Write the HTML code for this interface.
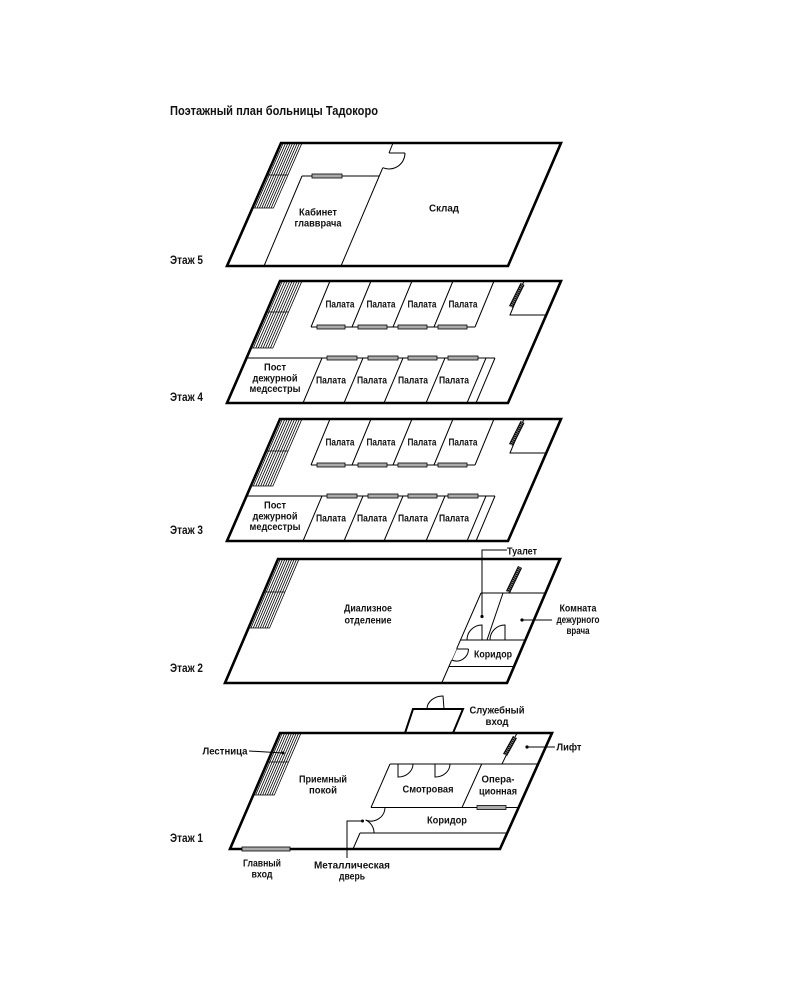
<!DOCTYPE html>
<html><head><meta charset="utf-8">
<style>
html,body{margin:0;padding:0;background:#fff;}
svg{display:block;}
text{font-family:"Liberation Sans Narrow","Liberation Sans","DejaVu Sans Condensed",sans-serif;font-weight:bold;font-size:10px;fill:#111;}
.c{text-anchor:middle;}
.o{fill:none;stroke:#000;stroke-width:2.6;stroke-linejoin:miter;}
.w{fill:none;stroke:#000;stroke-width:1;}
.h{fill:none;stroke:#000;stroke-width:0.85;}
.win{fill:#aaa;stroke:#000;stroke-width:0.8;}
.el1{stroke:#000;stroke-width:4.5;stroke-linecap:butt;}
.el2{stroke:#888;stroke-width:2.5;stroke-dasharray:1 1;}
</style></head>
<body>
<svg width="800" height="1000" viewBox="0 0 800 1000" xmlns="http://www.w3.org/2000/svg">
<rect width="800" height="1000" fill="#fff"/>

<text x="170" y="115" style="font-size:12.5px" textLength="208" lengthAdjust="spacingAndGlyphs">Поэтажный план больницы Тадокоро</text>

<!-- ===== FLOOR 5 ===== -->
<g transform="translate(281,143) skewX(-23.7)">
 <rect x="0" y="0" width="21" height="65" class="h"/>
 <path class="h" d="M2.33 0V65M4.67 0V65M7 0V65M9.33 0V65M11.67 0V65M14 0V65M16.33 0V65M18.67 0V65M0 32H21"/>
</g>
<polygon class="o" points="281,143 561,143 508,266 227,266"/>
<path class="w" d="M302,176 L264,266 M302,176 L379,176 M393,143 L389,153 M382.8,167.7 L341,266 M389,153 L405,153"/>
<path class="w" d="M405,153 A16,16 0 0,1 382.8,167.7"/>
<rect class="win" x="312" y="174" width="30" height="4"/>
<text class="c" x="318" y="215.5" textLength="38" lengthAdjust="spacingAndGlyphs">Кабинет</text>
<text class="c" x="318" y="226.5" textLength="47" lengthAdjust="spacingAndGlyphs">главврача</text>
<text class="c" x="444" y="211.5" textLength="30" lengthAdjust="spacingAndGlyphs">Склад</text>
<text x="170" y="264" style="font-size:11.5px" textLength="33" lengthAdjust="spacingAndGlyphs">Этаж 5</text>

<!-- ===== FLOOR 4 ===== -->
<g>
<g transform="translate(280,281) skewX(-23.5)">
 <rect x="0" y="0" width="22" height="67" class="h"/>
 <path class="h" d="M2.44 0V67M4.89 0V67M7.33 0V67M9.78 0V67M12.22 0V67M14.67 0V67M17.11 0V67M19.56 0V67M0 31H22"/>
</g>
<polygon class="o" points="280,281 561,281 508,403 227,403"/>
<path class="w" d="M330,281 L311,327 M371,281 L352,327 M412,281 L393,327 M453,281 L434,327 M494,281 L475,327 M311,327 L475,327"/>
<rect class="win" x="317" y="325" width="28" height="4"/>
<rect class="win" x="358" y="325" width="29" height="4"/>
<rect class="win" x="398" y="325" width="29" height="4"/>
<rect class="win" x="438" y="325" width="29" height="4"/>
<text class="c" x="340" y="307.5" textLength="29" lengthAdjust="spacingAndGlyphs">Палата</text>
<text class="c" x="381" y="307.5" textLength="29" lengthAdjust="spacingAndGlyphs">Палата</text>
<text class="c" x="422" y="307.5" textLength="29" lengthAdjust="spacingAndGlyphs">Палата</text>
<text class="c" x="463" y="307.5" textLength="29" lengthAdjust="spacingAndGlyphs">Палата</text>
<path class="w" d="M524,281 L510,315 L546,315"/>
<line class="el1" x1="511" y1="307" x2="522.5" y2="284"/>
<line class="el2" x1="511" y1="307" x2="522.5" y2="284"/>
<path class="w" d="M246.5,358 L495,358 M322,358 L303,403 M363,358 L344,403 M403,358 L384,403 M445,358 L426,403 M486,358 L467,403 M495,358 L476,403"/>
<rect class="win" x="327" y="356" width="30" height="4"/>
<rect class="win" x="368" y="356" width="30" height="4"/>
<rect class="win" x="408" y="356" width="29" height="4"/>
<rect class="win" x="448" y="356" width="30" height="4"/>
<text class="c" x="331" y="383.5" textLength="30" lengthAdjust="spacingAndGlyphs">Палата</text>
<text class="c" x="372" y="383.5" textLength="30" lengthAdjust="spacingAndGlyphs">Палата</text>
<text class="c" x="413" y="383.5" textLength="30" lengthAdjust="spacingAndGlyphs">Палата</text>
<text class="c" x="454" y="383.5" textLength="30" lengthAdjust="spacingAndGlyphs">Палата</text>
<text class="c" x="275" y="370.5" textLength="22" lengthAdjust="spacingAndGlyphs">Пост</text>
<text class="c" x="275" y="381.5" textLength="45" lengthAdjust="spacingAndGlyphs">дежурной</text>
<text class="c" x="275" y="392" textLength="51" lengthAdjust="spacingAndGlyphs">медсестры</text>
</g>
<text x="170" y="401" style="font-size:11.5px" textLength="33" lengthAdjust="spacingAndGlyphs">Этаж 4</text>

<!-- ===== FLOOR 3 ===== -->
<g transform="translate(0,138)">
<g transform="translate(280,281) skewX(-23.5)">
 <rect x="0" y="0" width="22" height="67" class="h"/>
 <path class="h" d="M2.44 0V67M4.89 0V67M7.33 0V67M9.78 0V67M12.22 0V67M14.67 0V67M17.11 0V67M19.56 0V67M0 32H22"/>
</g>
<polygon class="o" points="280,281 561,281 508,403 227,403"/>
<path class="w" d="M330,281 L311,327 M371,281 L352,327 M412,281 L393,327 M453,281 L434,327 M494,281 L475,327 M311,327 L475,327"/>
<rect class="win" x="317" y="325" width="28" height="4"/>
<rect class="win" x="358" y="325" width="29" height="4"/>
<rect class="win" x="398" y="325" width="29" height="4"/>
<rect class="win" x="438" y="325" width="29" height="4"/>
<text class="c" x="340" y="307.5" textLength="29" lengthAdjust="spacingAndGlyphs">Палата</text>
<text class="c" x="381" y="307.5" textLength="29" lengthAdjust="spacingAndGlyphs">Палата</text>
<text class="c" x="422" y="307.5" textLength="29" lengthAdjust="spacingAndGlyphs">Палата</text>
<text class="c" x="463" y="307.5" textLength="29" lengthAdjust="spacingAndGlyphs">Палата</text>
<path class="w" d="M524,281 L510,315 L546,315"/>
<line class="el1" x1="511" y1="307" x2="522.5" y2="284"/>
<line class="el2" x1="511" y1="307" x2="522.5" y2="284"/>
<path class="w" d="M246.5,358 L495,358 M322,358 L303,403 M363,358 L344,403 M403,358 L384,403 M445,358 L426,403 M486,358 L467,403 M495,358 L476,403"/>
<rect class="win" x="327" y="356" width="30" height="4"/>
<rect class="win" x="368" y="356" width="30" height="4"/>
<rect class="win" x="408" y="356" width="29" height="4"/>
<rect class="win" x="448" y="356" width="30" height="4"/>
<text class="c" x="331" y="383.5" textLength="30" lengthAdjust="spacingAndGlyphs">Палата</text>
<text class="c" x="372" y="383.5" textLength="30" lengthAdjust="spacingAndGlyphs">Палата</text>
<text class="c" x="413" y="383.5" textLength="30" lengthAdjust="spacingAndGlyphs">Палата</text>
<text class="c" x="454" y="383.5" textLength="30" lengthAdjust="spacingAndGlyphs">Палата</text>
<text class="c" x="275" y="370.5" textLength="22" lengthAdjust="spacingAndGlyphs">Пост</text>
<text class="c" x="275" y="381.5" textLength="45" lengthAdjust="spacingAndGlyphs">дежурной</text>
<text class="c" x="275" y="392" textLength="51" lengthAdjust="spacingAndGlyphs">медсестры</text>
</g>
<text x="170" y="534" style="font-size:11.5px" textLength="33" lengthAdjust="spacingAndGlyphs">Этаж 3</text>

<!-- ===== FLOOR 2 ===== -->
<g transform="translate(278,559) skewX(-23.1)">
 <rect x="0" y="0" width="21" height="69" class="h"/>
 <path class="h" d="M2.33 0V69M4.67 0V69M7 0V69M9.33 0V69M11.67 0V69M14 0V69M16.33 0V69M18.67 0V69M0 33H21"/>
</g>
<polygon class="o" points="278,559 560,559 507,683 225,683"/>
<path class="w" d="M481,593 L545.5,593 M481,593 L441.7,683 M503,593 L487,640 M460.5,640 L525.4,640 M448.9,666.5 L514,666.5"/>
<path fill="#fff" stroke="none" d="M456.8,648.5 L451.5,660.5 L449,660 L454.5,648 Z"/>
<path class="w" d="M456.5,649 L468.5,649 M468.5,649 A12,12 0 0,1 451.7,660"/>
<line class="el1" x1="508" y1="592" x2="520" y2="567"/>
<line class="el2" x1="508" y1="592" x2="520" y2="567"/>
<path class="w" d="M482,640 L482,625 A15,15 0 0,0 467,640"/>
<path class="w" d="M505,640 L505,625 A15,15 0 0,0 490,640"/>
<path class="w" d="M507,550 L482,550 L482,616.5"/>
<circle cx="482" cy="616.5" r="1.6" fill="#000"/>
<path class="w" d="M552,620 L522,620"/>
<circle cx="522" cy="620" r="1.6" fill="#000"/>
<text class="c" x="368" y="611.5" textLength="48" lengthAdjust="spacingAndGlyphs">Диализное</text>
<text class="c" x="368" y="623.5" textLength="47" lengthAdjust="spacingAndGlyphs">отделение</text>
<text class="c" x="493" y="657.5" textLength="38" lengthAdjust="spacingAndGlyphs">Коридор</text>
<text class="c" x="522" y="554.5" textLength="30" lengthAdjust="spacingAndGlyphs">Туалет</text>
<text class="c" x="578" y="611.5" textLength="37" lengthAdjust="spacingAndGlyphs">Комната</text>
<text class="c" x="578" y="623" textLength="43" lengthAdjust="spacingAndGlyphs">дежурного</text>
<text class="c" x="578" y="634" textLength="23" lengthAdjust="spacingAndGlyphs">врача</text>
<text x="170" y="672" style="font-size:11.5px" textLength="33" lengthAdjust="spacingAndGlyphs">Этаж 2</text>

<!-- ===== FLOOR 1 ===== -->
<g transform="translate(280,733) skewX(-23.3)">
 <rect x="0" y="0" width="21" height="62" class="h"/>
 <path class="h" d="M2.33 0V62M4.67 0V62M7 0V62M9.33 0V62M11.67 0V62M14 0V62M16.33 0V62M18.67 0V62M0 29H21"/>
</g>
<polygon fill="#fff" stroke="#000" stroke-width="2" points="405,733 413,709 463,709 453,733"/>
<path class="w" d="M427,709 A16,13 0 0,1 443,696 L444,709"/>
<polygon class="o" points="280,733 552,733 500,849 230,849"/>
<path class="w" d="M517,733 L502,764 M390,764 L538.3,764 M390,764 L371,807.5 M360,833 L353,849 M481.7,764 L462,807.5 M371,807.5 L518.6,807.5 M360,833 L507.2,833"/>
<line class="el1" x1="505" y1="755" x2="515" y2="737"/>
<line class="el2" x1="505" y1="755" x2="515" y2="737"/>
<rect class="win" x="477" y="805.5" width="29" height="4"/>
<rect class="win" x="242" y="847" width="48" height="4"/>
<path class="w" d="M398,764 L398,777 A15,13 0 0,0 413,764"/>
<path class="w" d="M435,764 L435,777 A15,13 0 0,0 450,764"/>
<path class="w" d="M385,807.5 A14,14 0 0,1 365.6,820 M374,833 A14,14 0 0,0 365.6,820"/>
<path class="w" d="M347,858 L347,821 L362,821"/>
<circle cx="362.5" cy="821" r="1.5" fill="#000"/>
<path class="w" d="M249,751 L283,753"/>
<circle cx="283" cy="753" r="1.5" fill="#000"/>
<path class="w" d="M555,747 L527,747"/>
<circle cx="527" cy="747" r="1.6" fill="#000"/>
<text class="c" x="497" y="713.5" textLength="55" lengthAdjust="spacingAndGlyphs">Служебный</text>
<text class="c" x="497" y="725" textLength="23" lengthAdjust="spacingAndGlyphs">вход</text>
<text class="c" x="225" y="754.5" textLength="45" lengthAdjust="spacingAndGlyphs">Лестница</text>
<text class="c" x="569" y="750.5" textLength="25" lengthAdjust="spacingAndGlyphs">Лифт</text>
<text class="c" x="323" y="782.5" textLength="48" lengthAdjust="spacingAndGlyphs">Приемный</text>
<text class="c" x="323" y="793.5" textLength="28" lengthAdjust="spacingAndGlyphs">покой</text>
<text class="c" x="428" y="792.5" textLength="51" lengthAdjust="spacingAndGlyphs">Смотровая</text>
<text class="c" x="498" y="782.5" textLength="33" lengthAdjust="spacingAndGlyphs">Опера-</text>
<text class="c" x="498" y="794.5" textLength="38" lengthAdjust="spacingAndGlyphs">ционная</text>
<text class="c" x="447" y="823.5" textLength="40" lengthAdjust="spacingAndGlyphs">Коридор</text>
<text class="c" x="262" y="866.5" textLength="38" lengthAdjust="spacingAndGlyphs">Главный</text>
<text class="c" x="262" y="877.5" textLength="21" lengthAdjust="spacingAndGlyphs">вход</text>
<text class="c" x="352" y="868.5" textLength="76" lengthAdjust="spacingAndGlyphs">Металлическая</text>
<text class="c" x="352" y="879.5" textLength="26" lengthAdjust="spacingAndGlyphs">дверь</text>
<text x="170" y="842" style="font-size:11.5px" textLength="33" lengthAdjust="spacingAndGlyphs">Этаж 1</text>
</svg>
</body></html>
